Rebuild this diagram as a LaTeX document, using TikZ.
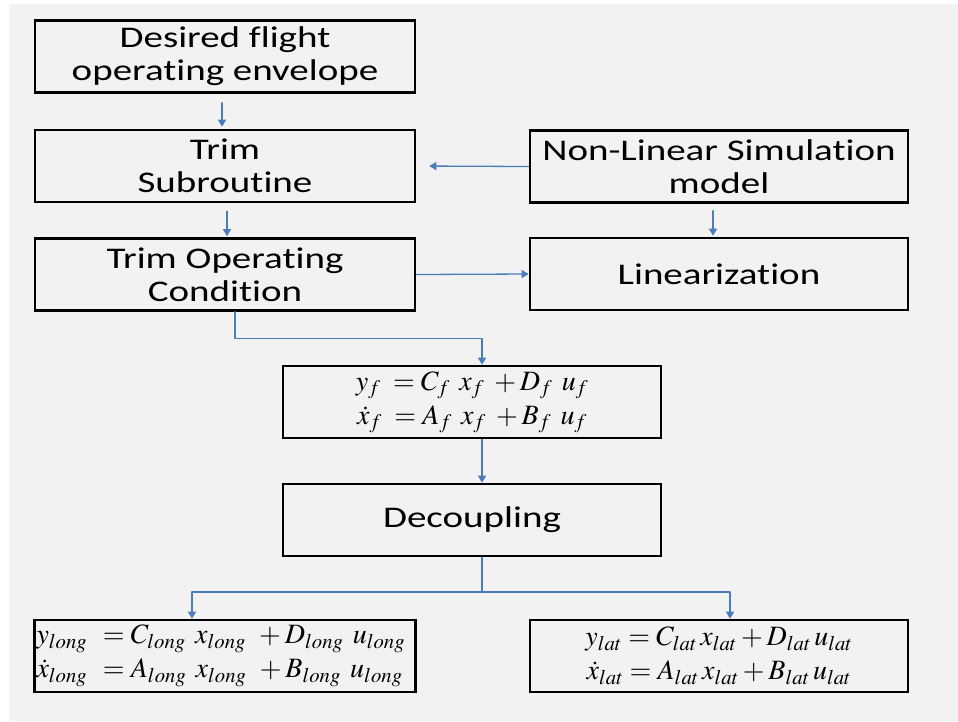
\documentclass[tikz,border=0pt]{standalone}
\usepackage{mathptmx}
\usepackage{fontspec}
\setmainfont{Carlito}[FakeStretch=1.3,Ligatures=NoCommon]
\usetikzlibrary{arrows.meta}
\definecolor{bbqqcc}{rgb}{0.29,0.49,0.73}
\definecolor{fzfzfz}{rgb}{0.949,0.949,0.949}

\begin{document}
\begin{tikzpicture}[line cap=round,line join=round,>={Triangle[length=7pt,width=8pt]},x=1pt,y=-1pt,
  box/.style={draw=black,line width=2.6pt,line cap=butt,line join=miter,minimum width=#1,minimum height=72pt,inner sep=0pt,align=center,font=\fontsize{30}{33}\selectfont},
  box/.default=380pt,
  eq/.style={font=\fontsize{28}{34}\selectfont},
  link/.style={->,color=bbqqcc,line width=1.3pt}]
\useasboundingbox (0,0) rectangle (958,721);
\fill[fzfzfz] (9,4) rectangle (958,721);
\node[box] (env) at (225,56.5) {Desired flight\\operating envelope};
\node[box] (trim) at (225,166) {Trim\\Subroutine};
\node[box] (toc) at (225,274.5) {Trim Operating\\Condition};
\node[box=378pt] (nls) at (719,166.5) {Non-Linear Simulation\\model};
\node[box=378pt] (lin) at (719,274) {Linearization};
\node[box=378pt,eq] (eqf) at (472,402) {$y_f\; = C_f\;\, x_f\; + D_f\;\, u_f$\\$\dot{x}_f\; = A_f\;\, x_f\; + B_f\;\, u_f$};
\node[box=378pt] (dec) at (472,520) {Decoupling};
\node[box=381pt,eq,align=left,text width=377pt,inner xsep=2pt] (eqlong) at (225,656) {$y_{long}\;\, = C_{long}\;\, x_{long}\;\, + D_{long}\;\, u_{long}$\\$\dot{x}_{long}\;\, = A_{long}\;\, x_{long}\;\, + B_{long}\;\, u_{long}$};
\node[box=378pt,eq] (eqlat) at (719,656) {$y_{lat} = C_{lat}\, x_{lat} + D_{lat}\, u_{lat}$\\$\dot{x}_{lat} = A_{lat}\, x_{lat} + B_{lat}\, u_{lat}$};
\coordinate (split) at (482,592);
% connectors
\draw[link,shorten <=9pt,shorten >=2pt] ([xshift=-3pt]env.south) -- ([xshift=-3pt]trim.north);
\draw[link,shorten <=8pt,shorten >=1pt] ([xshift=2pt]trim.south) -- ([xshift=2pt]toc.north);
\draw[link,shorten >=13pt] (nls.west) -- (trim.east);
\draw[link,shorten <=7pt,shorten >=1pt] ([xshift=-6pt]nls.south) -- ([xshift=-6pt]lin.north);
\draw[link] (toc.east) -- (lin.west);
\draw[link] ([xshift=10pt]toc.south) -- ++(0,27) -| ([xshift=10pt]eqf.north);
\draw[link] ([xshift=10pt]eqf.south) -- ([xshift=10pt]dec.north);
\draw[link,-] ([xshift=10pt]dec.south) -- (split);
\draw[link] (split) -| ([xshift=-33pt]eqlong.north);
\draw[link] (split) -| ([xshift=11pt]eqlat.north);
\end{tikzpicture}
\end{document}
